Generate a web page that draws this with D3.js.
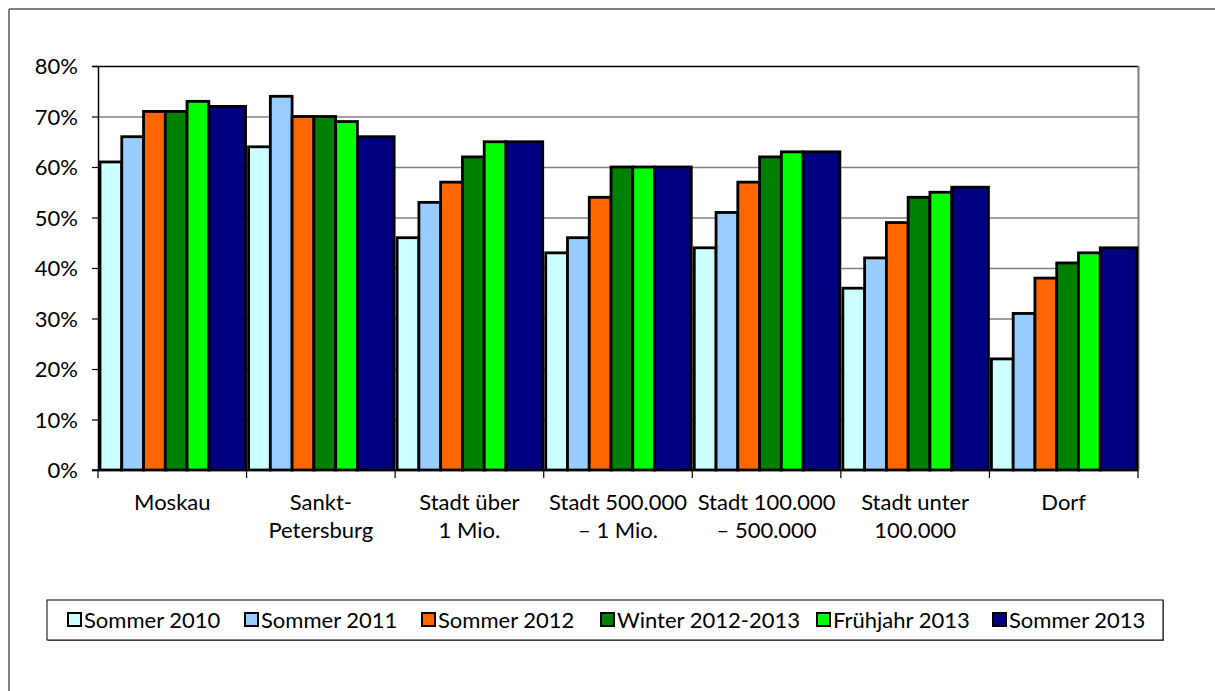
<!DOCTYPE html>
<html><head><meta charset="utf-8">
<script src="https://cdn.jsdelivr.net/npm/d3@7"></script>
<style>
html,body{margin:0;padding:0;background:#fff;}
svg{display:block;}
text{font-family:Lato,"Open Sans",sans-serif;fill:#000;}
</style></head><body>
<svg id="chart" width="1215" height="691"></svg>
<script>
const categories = [
  ["Moskau"],
  ["Sankt-", "Petersburg"],
  ["Stadt über", "1 Mio."],
  ["Stadt 500.000", "– 1 Mio."],
  ["Stadt 100.000", "– 500.000"],
  ["Stadt unter", "100.000"],
  ["Dorf"]
];
const seriesNames = ["Sommer 2010","Sommer 2011","Sommer 2012","Winter 2012-2013","Frühjahr 2013","Sommer 2013"];
const seriesColors = ["#CCFFFF","#99CCFF","#FF6600","#008000","#00FF00","#000080"];
const sommer2010 = [61,64,46,43,44,36,22];
const sommer2011 = [66,74,53,46,51,42,31];
const sommer2012 = [71,70,57,54,57,49,38];
const winter2012_2013 = [71,70,62,60,62,54,41];
const fruehjahr2013 = [73,69,65,60,63,55,43];
const sommer2013 = [72,66,65,60,63,56,44];
const seriesValues = [sommer2010,sommer2011,sommer2012,winter2012_2013,fruehjahr2013,sommer2013];
const yTicks = [0,10,20,30,40,50,60,70,80];

const FS = 22;
const svg = d3.select("#chart");
const plot = {left:98, right:1138, top:66, bottom:470};

// outer frame
svg.append("line").attr("x1",9).attr("x2",1215).attr("y1",9).attr("y2",9).attr("stroke","#808080").attr("stroke-width",2);
svg.append("line").attr("x1",9).attr("x2",9).attr("y1",9).attr("y2",691).attr("stroke","#808080").attr("stroke-width",2);

const catIdx = d3.range(categories.length);
const x = d3.scaleBand().domain(catIdx).range([plot.left, plot.right]).padding(0);
const y = d3.scaleLinear().domain([0,80]).range([plot.bottom, plot.top]);

// gridlines
svg.append("g").selectAll("line").data(yTicks.filter(t=>t>0)).join("line")
  .attr("x1",plot.left).attr("x2",plot.right)
  .attr("y1",d=>y(d)+0.5).attr("y2",d=>y(d)+0.5)
  .attr("stroke",d=>d===80?"#000":"#808080").attr("stroke-width",d=>d===80?1.5:1.3);
// right border
svg.append("line").attr("x1",plot.right+0.5).attr("x2",plot.right+0.5).attr("y1",plot.top).attr("y2",plot.bottom)
  .attr("stroke","#808080").attr("stroke-width",2);

// bars
const step = x.bandwidth()*0.1465;
const bars = svg.append("g");
seriesValues.forEach((vals,si)=>{
  bars.selectAll(null).data(vals).join("rect")
    .attr("x",(d,i)=>x(i)+2+si*step)
    .attr("width",(d,i)=> si===5 ? (x(i)+x.bandwidth()-1) - (x(i)+2+si*step) : step)
    .attr("y",d=>y(d))
    .attr("height",d=>y(0)-y(d))
    .attr("fill",seriesColors[si])
    .attr("stroke","#000").attr("stroke-width",2.8);
});

// y axis
const yAxis = d3.axisLeft(y).tickValues(yTicks).tickFormat(d=>d+"%").tickSize(6).tickPadding(14);
const gy = svg.append("g").attr("transform",`translate(${plot.left},0)`).call(yAxis);
gy.select(".domain").attr("stroke","#000").attr("stroke-width",1.5);
gy.selectAll(".tick line").attr("stroke","#000").attr("stroke-width",1.2);
gy.selectAll(".tick text").attr("font-size",FS).attr("font-family","Lato").attr("dy","0.35em");

// x axis
svg.append("line").attr("x1",plot.left-6).attr("x2",plot.right).attr("y1",plot.bottom).attr("y2",plot.bottom)
  .attr("stroke","#000").attr("stroke-width",1.5);
svg.append("g").selectAll("line").data(d3.range(categories.length+1)).join("line")
  .attr("x1",d=>plot.left + d*x.step()).attr("x2",d=>plot.left + d*x.step())
  .attr("y1",plot.bottom).attr("y2",plot.bottom+8)
  .attr("stroke","#000").attr("stroke-width",1.2);
const lbl = svg.append("g").selectAll("text").data(categories).join("text")
  .attr("x",(d,i)=>x(i)+x.bandwidth()/2).attr("y",510)
  .attr("text-anchor","middle").attr("font-size",FS);
lbl.each(function(lines){
  const t = d3.select(this);
  lines.forEach((l,k)=>t.append("tspan").attr("x",t.attr("x")).attr("dy",k===0?0:28).text(l));
});

// legend
const lg = svg.append("g");
lg.append("rect").attr("x",48).attr("y",601).attr("width",1116).attr("height",40).attr("fill","#808080");
lg.append("rect").attr("x",47).attr("y",600).attr("width",1116).attr("height",40).attr("fill","#fff").attr("stroke","#000").attr("stroke-width",1);
const legendX = [68,245,422,601,817,993];
seriesNames.forEach((n,i)=>{
  lg.append("rect").attr("x",legendX[i]).attr("y",613).attr("width",13).attr("height",13)
    .attr("fill",seriesColors[i]).attr("stroke","#000").attr("stroke-width",2);
  lg.append("text").attr("x",legendX[i]+16).attr("y",628).attr("font-size",FS).text(n);
});
</script>
</body></html>
